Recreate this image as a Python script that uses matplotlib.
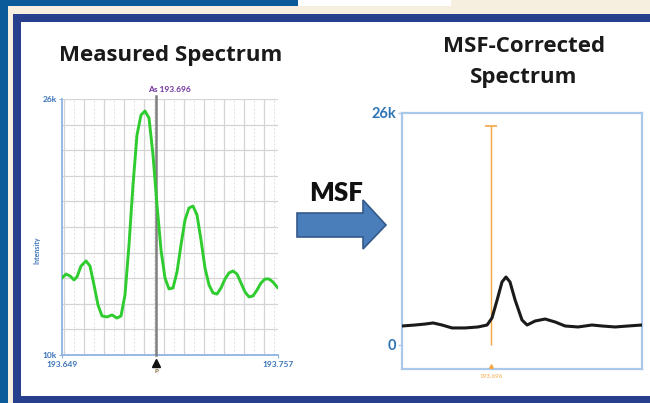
import numpy as np
import matplotlib
matplotlib.use("Agg")
import matplotlib.pyplot as plt
from matplotlib.patches import Rectangle, Polygon

plt.rcParams['font.family'] = ['Lato', 'DejaVu Sans']

W, H = 650, 403

# ---------------- data ----------------
# Measured spectrum (left, green)
meas_x = [193.649, 193.651, 193.653, 193.655, 193.6565, 193.6585, 193.661, 193.663,
          193.665, 193.667, 193.669, 193.6715, 193.674, 193.6765, 193.6785, 193.6805,
          193.6825, 193.6845, 193.6865, 193.6885, 193.6905, 193.6925, 193.6945, 193.6965,
          193.6985, 193.7005, 193.7025, 193.7045, 193.7065, 193.7085, 193.7105, 193.7125,
          193.7145, 193.7165, 193.7185, 193.7205, 193.7225, 193.7245, 193.7265, 193.7285,
          193.7305, 193.7325, 193.7345, 193.7365, 193.7385, 193.7405, 193.7425, 193.7445,
          193.7465, 193.7485, 193.7505, 193.7525, 193.7545, 193.7565, 193.757]
meas_y = [14.81, 15.06, 14.94, 14.69, 14.88, 15.56, 15.88, 15.56,
          14.38, 13.13, 12.44, 12.38, 12.50, 12.31, 12.44, 13.75,
          16.88, 20.63, 23.75, 25.00, 25.25, 24.81, 22.50, 19.38,
          16.56, 14.81, 14.13, 14.19, 15.19, 16.88, 18.44, 19.19,
          19.31, 18.75, 17.19, 15.44, 14.38, 13.88, 13.81, 14.19,
          14.75, 15.13, 15.25, 15.06, 14.50, 13.94, 13.63, 13.69,
          14.06, 14.50, 14.75, 14.75, 14.56, 14.25, 14.19]

# MSF-corrected spectrum (right, black)
corr_x = [193.656, 193.6619, 193.6664, 193.670, 193.674, 193.6785, 193.6844, 193.6902,
          193.6943, 193.6965, 193.6988, 193.701, 193.7028, 193.7046, 193.7069, 193.710,
          193.7123, 193.7159, 193.7204, 193.7249, 193.7294, 193.7352, 193.7415, 193.746,
          193.7519, 193.7577, 193.764]
corr_y = [2.13, 2.24, 2.35, 2.47, 2.24, 1.91, 1.91, 2.02,
          2.24, 3.03, 5.04, 7.06, 7.62, 7.06, 5.04, 2.80,
          2.24, 2.69, 2.91, 2.58, 2.13, 2.02, 2.24, 2.13,
          2.02, 2.13, 2.24]

marker_x = 193.696
left_xlim = (193.649, 193.757)
left_ylim = (10, 26)
left_xticklabels = ["193.649", "193.757"]
left_yticklabels = ["10k", "26k"]
right_xlim = (193.656, 193.764)
right_ylim = (-2.69, 26)
right_yticks = [0, 26]
right_yticklabels = ["0", "26k"]
orange_top = 24.55


def fr(x, y, w=0, h=0):
    """pixel box (top-left origin) -> figure fraction (left, bottom, w, h)"""
    return [x / W, 1 - (y + h) / H, w / W, h / H]


fig = plt.figure(figsize=(6.5, 4.03), dpi=100)
fig.patch.set_facecolor('white')


def rect(x, y, w, h, color, z=0):
    l, b, ww, hh = fr(x, y, w, h)
    fig.patches.append(Rectangle((l, b), ww, hh, transform=fig.transFigure,
                                 facecolor=color, edgecolor='none', zorder=z))


# ---------------- slide background / frame ----------------
rect(0, 0, 650, 403, '#f6efdf', 0)
rect(0, 0, 298, 6, '#0b5b9a', 1)
rect(298, 0, 153, 6, '#ffffff', 1)
rect(0, 0, 8, 403, '#0b5b9a', 1)
rect(13, 14, 637, 389, '#283f8e', 2)
rect(21, 22, 629, 374, '#ffffff', 3)

# ---------------- titles ----------------
title_kw = dict(ha='center', va='center', fontsize=16, fontweight='bold',
                color='#1a1a1a', family=['Open Sans', 'DejaVu Sans'])
fig.text(*fr(171, 56)[:2], "Measured Spectrum", **title_kw)
fig.text(*fr(524, 46)[:2], "MSF-Corrected", **title_kw)
fig.text(*fr(524, 78)[:2], "Spectrum", **title_kw)

# ---------------- MSF arrow ----------------
pts = [(297, 213), (363, 213), (363, 200), (386, 225), (363, 249), (363, 237), (297, 237)]
poly = [(x / W, 1 - y / H) for x, y in pts]
fig.patches.append(Polygon(poly, closed=True, transform=fig.transFigure,
                           facecolor='#4a7ebb', edgecolor='#35598a', linewidth=1.2, zorder=5))
fig.text(*fr(336, 193)[:2], "MSF", ha='center', va='center',
         fontsize=18.5, fontweight='heavy', color='#111111', zorder=6)

# ---------------- left axes ----------------
axL = fig.add_axes(fr(62, 99, 216, 256))
axL.set_zorder(10)
axL.patch.set_alpha(0)
axL.set_xlim(*left_xlim)
axL.set_ylim(*left_ylim)
for xv in np.arange(193.650, 193.7551, 0.01):
    axL.axvline(xv, color='#d4d4d4', lw=0.9, zorder=1)
for xv in np.arange(193.655, 193.7551, 0.01):
    axL.axvline(xv, color='#e0e0e0', lw=0.7, ls=(0, (2, 2)), zorder=1)
for yv in np.arange(11.6, 26.01, 1.6):
    axL.axhline(yv, color='#d4d4d4', lw=0.9, zorder=1)
axL.plot(meas_x, meas_y, color='#2ecc2e', lw=2.1, zorder=4, solid_capstyle='round')
axL.axvline(marker_x, ymin=0, ymax=1.01, color='#7f7f7f', lw=1.8, zorder=3, clip_on=False)
axL.plot([marker_x], [9.5], marker='^', color='#111111', markersize=6, clip_on=False, zorder=5)
axL.text(marker_x, 8.95, "P", ha='center', va='center', fontsize=4.5,
         color='#7f6a3a', fontweight='bold')
axL.text(marker_x + 0.0068, 26.35, "As 193.696", ha='center', va='bottom', fontsize=6,
         color='#7030a0', fontweight='bold')
for s in ['top', 'right']:
    axL.spines[s].set_visible(False)
for s in ['left', 'bottom']:
    axL.spines[s].set_color('#8db4e2')
    axL.spines[s].set_linewidth(1.3)
axL.set_xticks(list(left_xlim))
axL.set_xticklabels(left_xticklabels)
axL.set_yticks(list(left_ylim))
axL.set_yticklabels(left_yticklabels)
axL.tick_params(axis='both', length=2, width=0.8, color='#8db4e2', labelsize=6,
                labelcolor='#3b73b9', pad=2)
for t in axL.get_xticklabels() + axL.get_yticklabels():
    t.set_fontweight('bold')
axL.set_ylabel("Intensity", fontsize=5, color='#3b73b9', fontweight='bold')
axL.yaxis.set_label_coords(-0.10, 0.41)

# ---------------- right axes ----------------
axR = fig.add_axes(fr(402, 113, 240, 256))
axR.set_zorder(10)
axR.patch.set_alpha(0)
axR.set_xlim(*right_xlim)
axR.set_ylim(*right_ylim)
axR.plot(corr_x, corr_y, color='#1a1a1a', lw=2.2, zorder=4)
axR.vlines(marker_x, 0, orange_top, color='#f4a640', lw=1.0, zorder=3)
axR.plot([marker_x], [orange_top], marker='_', color='#f4a640', markersize=9,
         markeredgewidth=1.2, zorder=3)
axR.plot([marker_x], [right_ylim[0] + 0.3], marker='^', color='#f4a640', markersize=2.5,
         clip_on=False, zorder=5)
axR.text(marker_x, right_ylim[0] - 0.6, "193.696", ha='center', va='top', fontsize=4.5,
         color='#f4a640')
for s in axR.spines.values():
    s.set_color('#a9c8ea')
    s.set_linewidth(1.6)
axR.set_xticks([])
axR.set_yticks(right_yticks)
axR.set_yticklabels(right_yticklabels)
axR.tick_params(axis='y', length=3, width=1, color='#a9c8ea', labelsize=10.5,
                labelcolor='#2e75b6', pad=1)
for t in axR.get_yticklabels():
    t.set_fontweight('bold')

fig.savefig("out.png", dpi=100)
